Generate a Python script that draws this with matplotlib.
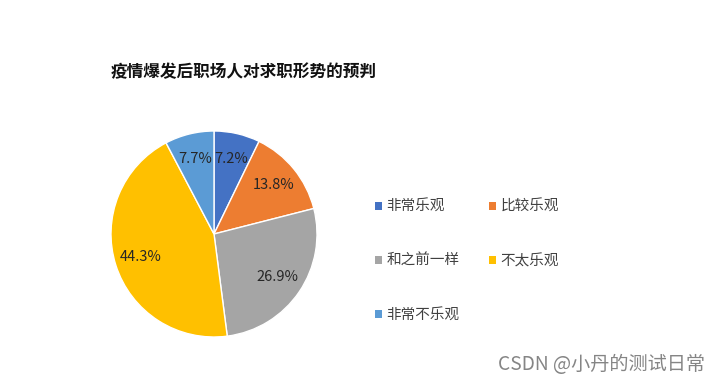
import matplotlib
matplotlib.use('Agg')
import matplotlib.pyplot as plt
from matplotlib.patches import Patch

plt.rcParams['font.family'] = ['Noto Sans CJK SC', 'DejaVu Sans']

# data
title = '疫情爆发后职场人对求职形势的预判'
labels = ['非常乐观', '比较乐观', '和之前一样', '不太乐观', '非常不乐观']
values = [7.2, 13.8, 26.9, 44.3, 7.7]
colors = ['#4472C4', '#ED7D31', '#A5A5A5', '#FFC000', '#5B9BD5']

W, H = 720, 385
fig = plt.figure(figsize=(W / 100, H / 100), dpi=100)

# pie axes: centre (214, 234) px, radius 103 px
cx, cy, r = 214, 234, 103
ax = fig.add_axes([(cx - r) / W, (H - cy - r) / H, 2 * r / W, 2 * r / H])
wedges, texts, autotexts = ax.pie(values, colors=colors, startangle=90, counterclock=False,
                                  autopct='%.1f%%', pctdistance=0.75,
                                  wedgeprops=dict(edgecolor='white', linewidth=1),
                                  textprops=dict(fontsize=10.5, color='#262626'))
ax.set_xlim(-1, 1)
ax.set_ylim(-1, 1)
ax.set_aspect('equal')

fig.text(244 / W, 1 - 72 / H, title, ha='center', va='center',
         fontsize=12, fontweight='bold', color='#111111')

# legend filled row-wise (matplotlib fills columns first)
order = [0, 2, 4, 1, 3]
handles = [Patch(facecolor=colors[i], edgecolor='none') for i in order]
fig.legend(handles, [labels[i] for i in order], ncol=2, loc='upper left',
           bbox_to_anchor=(375 / W, 1 - 200 / H), frameon=False,
           fontsize=10.5, labelcolor='#404040', handlelength=0.5, handleheight=0.5,
           handletextpad=0.3, labelspacing=2.75, columnspacing=2.0,
           borderpad=0, borderaxespad=0)

# watermark
fig.text(705 / W, 1 - 364 / H, 'CSDN @小丹的测试日常', ha='right', va='center',
         fontsize=13.8, color='#858585')

fig.savefig('out.png', dpi=100, facecolor='white')
